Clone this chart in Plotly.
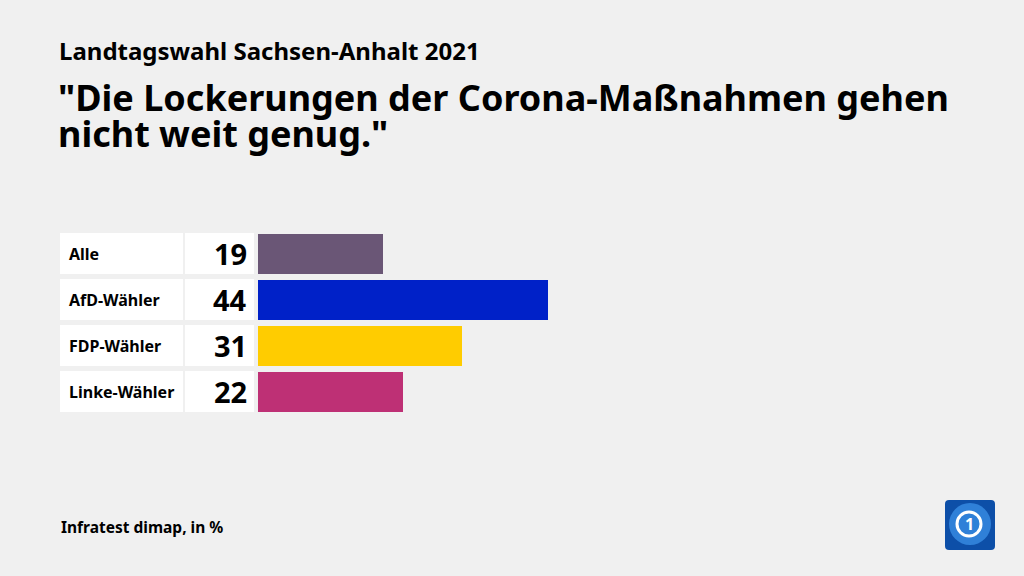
import plotly.graph_objects as go

categories = ["Alle", "AfD-Wähler", "FDP-Wähler", "Linke-Wähler"]
values = [19, 44, 31, 22]
colors = ["#6a5676", "#0021c8", "#ffcc00", "#be3075"]

W, H = 1024, 576
FONT = "Noto Sans"
BG = "#f0f0f0"

fig = go.Figure()
fig.add_trace(go.Bar(
    y=categories, x=values, orientation="h",
    marker=dict(color=colors, line=dict(width=0)),
    width=0.89, hoverinfo="skip", showlegend=False,
))

shapes = []
annotations = []
for i, (cat, val) in enumerate(zip(categories, values)):
    for x0, x1 in [(60, 183), (185, 254)]:
        shapes.append(dict(type="rect", xref="paper", yref="y",
                           x0=x0 / W, x1=x1 / W, y0=i - 0.445, y1=i + 0.445,
                           fillcolor="white", line=dict(width=0), layer="below"))
    annotations.append(dict(xref="paper", yref="y", x=67 / W, y=i, text=cat,
                            showarrow=False, xanchor="left", yanchor="middle",
                            font=dict(family=FONT, size=16, color="#000000", weight="bold")))
    annotations.append(dict(xref="paper", yref="y", x=249 / W, y=i, text=str(val),
                            showarrow=False, xanchor="right", yanchor="middle",
                            font=dict(family=FONT, size=29, color="#000000", weight="bold")))

# titles
annotations.append(dict(xref="paper", yref="paper", x=57 / W, y=1 - 51 / H,
                        text="Landtagswahl Sachsen-Anhalt 2021", showarrow=False,
                        xanchor="left", yanchor="middle",
                        font=dict(family=FONT, size=24, color="#000000", weight="bold")))
annotations.append(dict(xref="paper", yref="paper", x=56 / W, y=1 - 98 / H,
                        text="\"Die Lockerungen der Corona-Maßnahmen gehen", showarrow=False,
                        xanchor="left", yanchor="middle",
                        font=dict(family=FONT, size=36, color="#000000", weight="bold")))
annotations.append(dict(xref="paper", yref="paper", x=56 / W, y=1 - 134 / H,
                        text="nicht weit genug.\"", showarrow=False,
                        xanchor="left", yanchor="middle",
                        font=dict(family=FONT, size=36, color="#000000", weight="bold")))
annotations.append(dict(xref="paper", yref="paper", x=59 / W, y=1 - 527 / H,
                        text="Infratest dimap, in %", showarrow=False,
                        xanchor="left", yanchor="middle",
                        font=dict(family=FONT, size=15.5, color="#000000", weight="bold")))

# logo
shapes.append(dict(type="path", xref="paper", yref="paper",
                   path=(f"M {949/W},{1-500/H} L {991/W},{1-500/H} "
                         f"Q {995/W},{1-500/H} {995/W},{1-504/H} L {995/W},{1-546/H} "
                         f"Q {995/W},{1-550/H} {991/W},{1-550/H} L {949/W},{1-550/H} "
                         f"Q {945/W},{1-550/H} {945/W},{1-546/H} L {945/W},{1-504/H} "
                         f"Q {945/W},{1-500/H} {949/W},{1-500/H} Z"),
                   fillcolor="#0d4fa8", line=dict(width=0)))
shapes.append(dict(type="circle", xref="paper", yref="paper",
                   x0=949 / W, x1=991 / W, y0=1 - 545 / H, y1=1 - 503 / H,
                   fillcolor="#2f80d8", line=dict(width=0)))
shapes.append(dict(type="circle", xref="paper", yref="paper",
                   x0=957 / W, x1=981 / W, y0=1 - 536 / H, y1=1 - 512 / H,
                   fillcolor="rgba(0,0,0,0)", line=dict(color="white", width=3)))
annotations.append(dict(xref="paper", yref="paper", x=969 / W, y=1 - 524 / H,
                        text="1", showarrow=False, xanchor="center", yanchor="middle",
                        font=dict(family=FONT, size=16, color="white", weight="bold")))

fig.update_layout(
    width=W, height=H,
    margin=dict(l=0, r=0, t=0, b=0),
    paper_bgcolor=BG, plot_bgcolor="rgba(0,0,0,0)",
    xaxis=dict(domain=[258 / W, (258 + 658) / W], range=[0, 100],
               visible=False, fixedrange=True),
    yaxis=dict(domain=[1 - 414.5 / H, 1 - 230.5 / H], range=[3.5, -0.5],
               type="category", categoryorder="array", categoryarray=categories,
               visible=False, fixedrange=True),
    shapes=shapes, annotations=annotations, bargap=0,
)

fig.write_html("out.html", config={"displayModeBar": False},
               post_script="document.body.style.margin='0';document.body.style.overflow='hidden';document.body.style.background='#f0f0f0';")
